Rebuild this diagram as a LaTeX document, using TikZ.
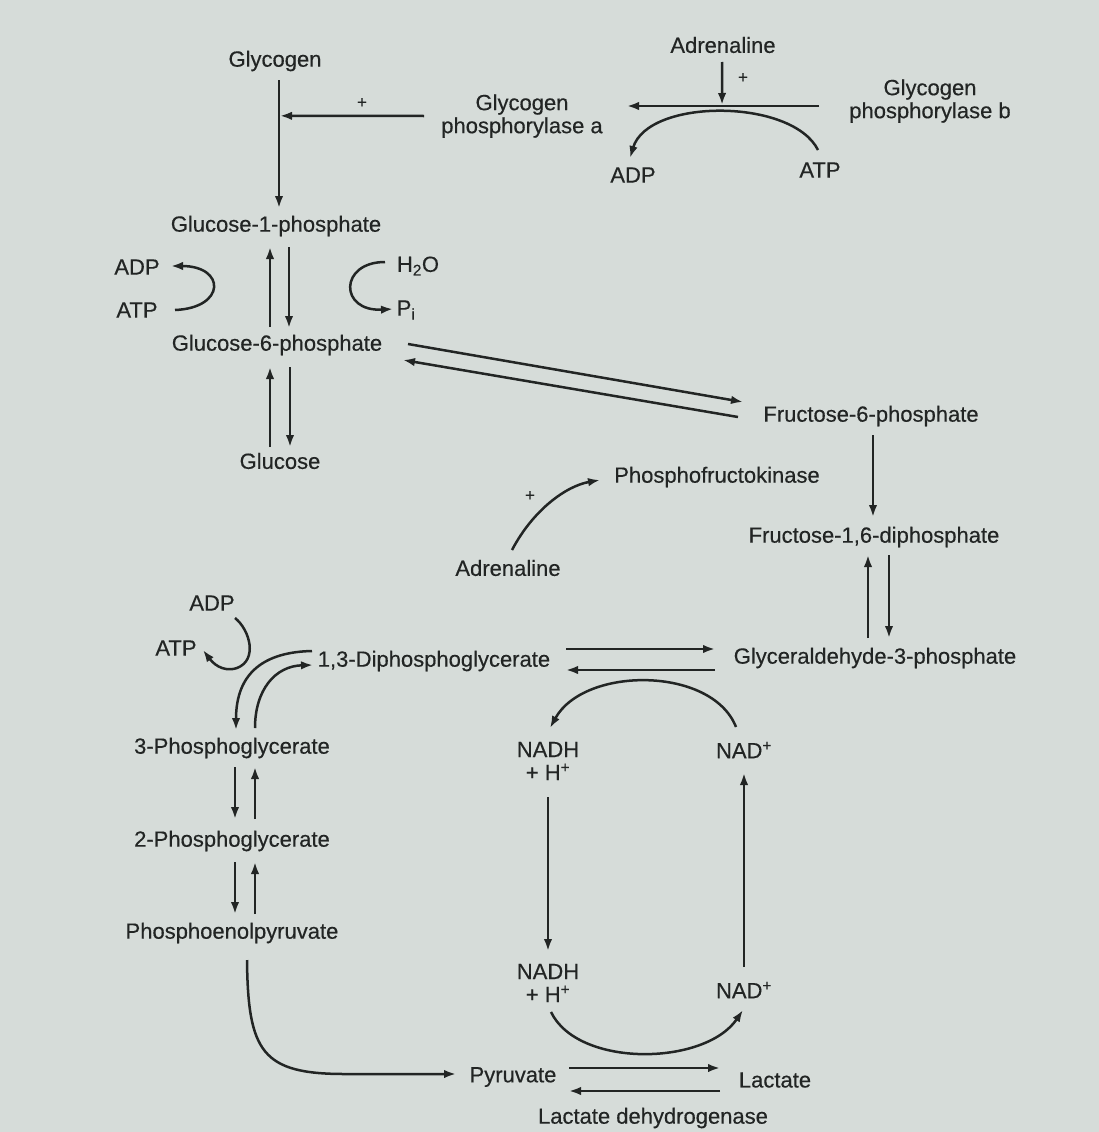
\documentclass[tikz,border=0pt]{standalone}
\usepackage{fontspec}
\setmainfont{Liberation Sans}[FakeBold=0.4]
\usetikzlibrary{calc,arrows.meta}
\definecolor{paper}{RGB}{214,220,217}
\definecolor{ink}{RGB}{34,37,36}
\newcommand{\lblfont}{\fontsize{22}{23}\selectfont}
\begin{document}
\begin{tikzpicture}[x=1pt,y=-1pt,
  lbl/.style={font=\lblfont, text=ink, inner sep=0pt, align=center},
  sgn/.style={font=\fontsize{17}{17}\selectfont, text=ink, inner sep=0pt},
  arr/.style={draw=ink, line width=2.5pt, -{Latex[length=12pt,width=8.5pt]}},
  ln/.style={draw=ink, line width=2.5pt}]

% page
\fill[paper] (0,0) rectangle (1099,1132);
\useasboundingbox (0,0) rectangle (1099,1132);

% ---------- glycogen breakdown ----------
\node[lbl] (glycogen) at (275,61) {Glycogen};
\node[sgn] (plusA) at (362,103) {+};
\node[lbl] (gpa) at (522,116) {Glycogen\\phosphorylase a};
\node[lbl] (adr1) at (723,45) {Adrenaline};
\node[sgn] (plusB) at (743,78) {+};
\node[lbl] (gpb) at (930,101) {Glycogen\\phosphorylase b};
\node[lbl] (adp1) at (633,175) {ADP};
\node[lbl] (atp1) at (820,170) {ATP};

\node[lbl] (g1p) at (276,226) {Glucose-1-phosphate};
\node[lbl] (adp2) at (137,267) {ADP};
\node[lbl] (atp2) at (137,310) {ATP};
\node[lbl] (h2o) at (418,266) {H\textsubscript{2}O};
\node[lbl] (pi) at (406,310) {P\textsubscript{i}};
\node[lbl] (g6p) at (277,345) {Glucose-6-phosphate};
\node[lbl] (glc) at (280,461) {Glucose};

% glycogen -> glucose-1-phosphate, activated by phosphorylase a
\draw[arr] ($(glycogen)+(4,19)$) -- coordinate[pos=0.28] (jA) ($(g1p)+(3,-18)$);
\draw[arr, shorten >=1pt] ($(gpa)+(-98,0)$) -- (jA);

% phosphorylase b -> a, activated by adrenaline
\draw[arr] ($(gpb)+(-111,5)$) -- coordinate[pos=0.505] (jB) ($(gpa)+(105,-10)$);
\draw[arr, shorten >=1pt] ($(adr1)+(-1,17)$) -- (jB);
\draw[arr] ($(atp1)+(-2,-20)$) .. controls (792,98) and (648,98) .. ($(adp1)+(-3,-17)$);

% glucose-1-phosphate <-> glucose-6-phosphate
\draw[arr] ($(g6p)+(-7,-18)$) -- ($(g1p)+(-6,21)$);
\draw[arr] ($(g1p)+(13,21)$) -- ($(g6p)+(12,-17)$);
\draw[arr] ($(atp2)+(38,0)$) .. controls (226,308) and (226,266) .. ($(adp2)+(34,-1)$);
\draw[arr] ($(h2o)+(-33,-4)$) .. controls (339,262) and (339,312) .. ($(pi)+(-13,-1)$);

% glucose-6-phosphate <-> glucose
\draw[arr] ($(glc)+(-10,-14)$) -- ($(g6p)+(-7,22)$);
\draw[arr] ($(g6p)+(13,22)$) -- ($(glc)+(10,-14)$);

% ---------- glycolysis ----------
\node[lbl] (f6p) at (871,416) {Fructose-6-phosphate};
\node[lbl] (pfk) at (717,477) {Phosphofructokinase};
\node[sgn] (plusC) at (530,496) {+};
\node[lbl] (adr2) at (508,568) {Adrenaline};
\node[lbl] (f16) at (874,537) {Fructose-1,6-diphosphate};
\node[lbl] (ga3p) at (875,658) {Glyceraldehyde-3-phosphate};
\node[lbl] (dpg) at (434,661) {1,3-Diphosphoglycerate};

\draw[arr] ($(g6p)+(131,-1)$) -- ($(f6p)+(-128,-14)$);
\draw[arr] ($(f6p)+(-133,1)$) -- ($(g6p)+(126,15)$);
\draw[arr] ($(f6p)+(2,19)$) -- ($(f16)+(-1,-20)$);
\draw[arr] ($(adr2)+(4,-18)$) .. controls (533,510) and (566,486) .. ($(pfk)+(-117,3)$);

\draw[arr] ($(ga3p)+(-7,-20)$) -- ($(f16)+(-6,18)$);
\draw[arr] ($(f16)+(15,18)$) -- ($(ga3p)+(14,-20)$);

\draw[arr] ($(dpg)+(132,-12)$) -- ($(ga3p)+(-160,-9)$);
\draw[arr] ($(ga3p)+(-160,12)$) -- ($(dpg)+(132,9)$);

% ---------- lower glycolysis ----------
\node[lbl] (adp3) at (212,603) {ADP};
\node[lbl] (atp3) at (176,648) {ATP};
\node[lbl] (pg3) at (232,748) {3-Phosphoglycerate};
\node[lbl] (pg2) at (232,841) {2-Phosphoglycerate};
\node[lbl] (pep) at (232,933) {Phosphoenolpyruvate};

\draw[arr] ($(dpg)+(-122,-10)$) .. controls (265,652) and (236,672) .. ($(pg3)+(4,-18)$);
\draw[arr] ($(pg3)+(23,-20)$) .. controls (255,690) and (275,666) .. ($(dpg)+(-121,4)$);
\draw[arr] ($(adp3)+(23,15)$) .. controls (250,630) and (258,660) .. (237,668)
  .. controls (222,673) and (212,662) .. ($(atp3)+(27,2)$);

\draw[arr] ($(pg3)+(3,19)$) -- ($(pg2)+(3,-22)$);
\draw[arr] ($(pg2)+(23,-22)$) -- ($(pg3)+(23,19)$);
\draw[arr] ($(pg2)+(3,21)$) -- ($(pep)+(3,-19)$);
\draw[arr] ($(pep)+(23,-19)$) -- ($(pg2)+(23,21)$);

% ---------- NAD cycle and lactate ----------
\node[lbl] (nadh1) at (548,761) {NADH\\+ H\textsuperscript{+}};
\node[lbl] (nad1) at (744,750) {NAD\textsuperscript{+}};
\node[lbl] (nadh2) at (548,983) {NADH\\+ H\textsuperscript{+}};
\node[lbl] (nad2) at (744,990) {NAD\textsuperscript{+}};
\node[lbl] (pyr) at (513,1077) {Pyruvate};
\node[lbl] (lac) at (775,1080) {Lactate};
\node[lbl] (ldh) at (653,1118) {Lactate dehydrogenase};

\draw[arr] ($(nad1)+(-8,-23)$) .. controls (712,666) and (584,666) .. ($(nadh1)+(2,-33)$);
\draw[arr] ($(nadh1)+(0,36)$) -- ($(nadh2)+(0,-32)$);
\draw[arr] ($(nad2)+(0,-23)$) -- ($(nad1)+(0,23)$);
\draw[arr] ($(nadh2)+(3,29)$) .. controls (578,1068) and (705,1066) .. ($(nad2)+(-1,20)$);

% phosphoenolpyruvate -> pyruvate, sweeping round the corner
\draw[arr] ($(pep)+(15,27)$) .. controls (248,1052) and (262,1074) .. (345,1074)
  -- ($(pyr)+(-57,-3)$);
\draw[arr] ($(pyr)+(56,-9)$) -- ($(lac)+(-55,-12)$);
\draw[arr] ($(lac)+(-55,11)$) -- ($(pyr)+(56,14)$);

\end{tikzpicture}
\end{document}
